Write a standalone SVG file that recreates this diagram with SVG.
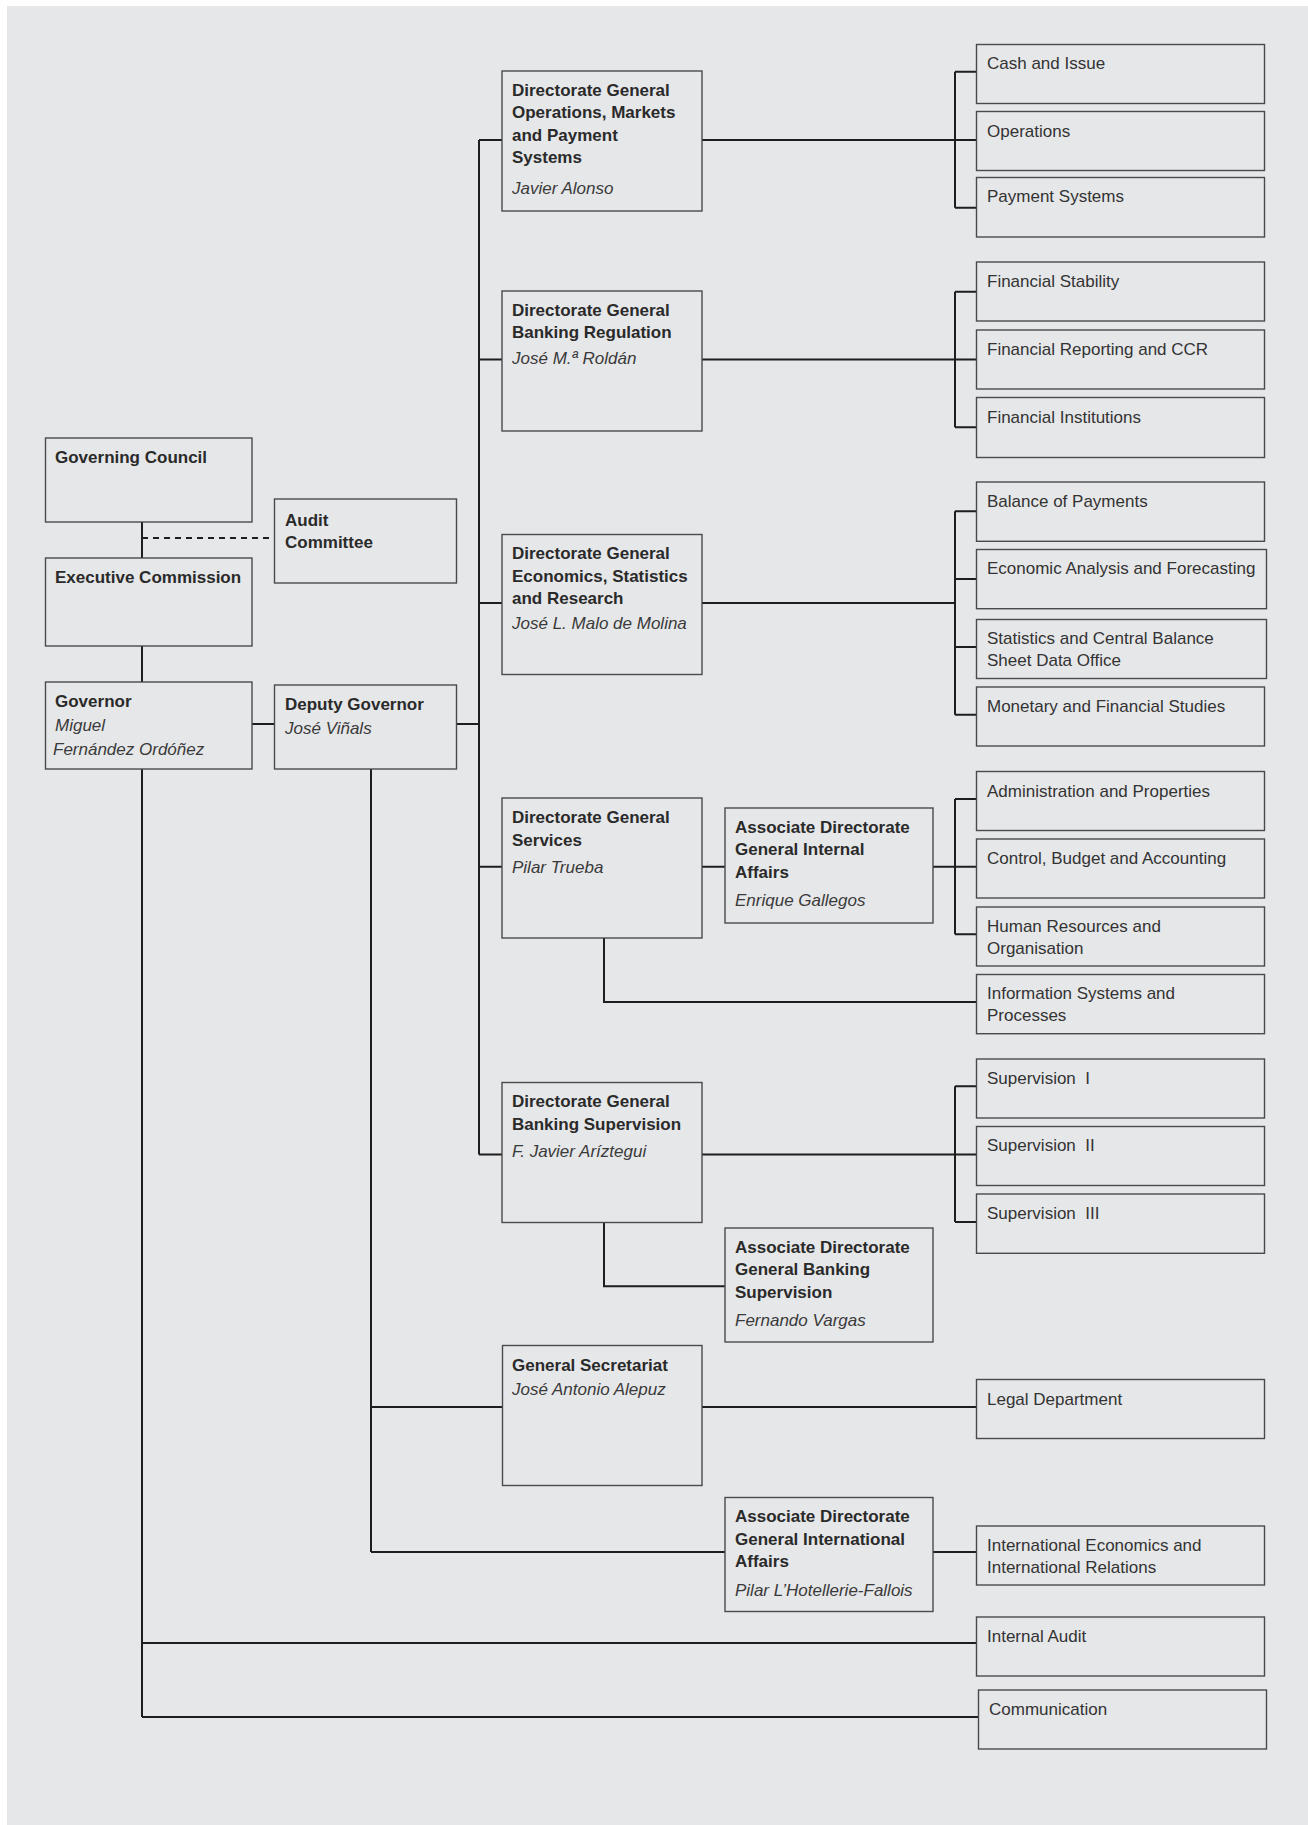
<svg xmlns="http://www.w3.org/2000/svg" width="1308" height="1825" viewBox="0 0 1308 1825">
<style>
.bx{fill:#e6e7e9;stroke:#4a4a4a;stroke-width:1.4}
.t{font-family:"Liberation Sans",Arial,sans-serif;font-size:17px;fill:#2b2b2b}
.b{font-weight:bold;fill:#2a2a2a}
.i{font-style:italic;fill:#3a3a3a}
.r{fill:#333}
.c{fill:none;stroke:#1e1e1e;stroke-width:2}
.d{fill:none;stroke:#1e1e1e;stroke-width:2;stroke-dasharray:6,5}
</style>
<rect x="0" y="0" width="1308" height="1825" fill="#ffffff"/>
<rect x="7" y="6" width="1301" height="1819" fill="#e6e7e9"/>

<g id="connectors">
<path class="c" d="M142,522V558 M142,646V682 M252,724H274.5 M456.5,724H479 M479,140V1154.5"/>
<path class="d" d="M142,538H274.5"/>
<path class="c" d="M479,140H502 M479,359.5H502 M479,603H502 M479,866.7H502 M479,1154.5H502"/>
<path class="c" d="M702,140H976.5 M955,71.7V207.7 M955,71.7H976.5 M955,207.7H976.5"/>
<path class="c" d="M702,359.5H976.5 M955,291.7V427.3 M955,291.7H976.5 M955,427.3H976.5"/>
<path class="c" d="M702,603H955 M955,511.3V714.7 M955,511.3H976.5 M955,579H976.5 M955,647H976.5 M955,714.7H976.5"/>
<path class="c" d="M702,866.7H725 M933,866.7H976.5 M955,799V934.3 M955,799H976.5 M955,934.3H976.5"/>
<path class="c" d="M604,938V1002H976.5"/>
<path class="c" d="M702,1154.5H976.5 M955,1086.3V1222 M955,1086.3H976.5 M955,1222H976.5"/>
<path class="c" d="M604,1222.5V1286.3H725"/>
<path class="c" d="M371,769V1552 M371,1407H502.5 M702,1407H976.5 M371,1552H725 M933,1552H976.5"/>
<path class="c" d="M142,769V1717 M142,1643H976.5 M142,1717H978.5"/>
</g>

<g id="governing-council"><rect class="bx" x="45.5" y="438" width="206.5" height="84"/>
<text class="t b" x="55" y="463">Governing Council</text></g>
<g id="audit-committee"><rect class="bx" x="274.5" y="499" width="182" height="84"/>
<text class="t b" x="285" y="526">Audit</text><text class="t b" x="285" y="548">Committee</text></g>
<g id="executive-commission"><rect class="bx" x="45.5" y="558" width="206.5" height="88"/>
<text class="t b" x="55" y="583">Executive Commission</text></g>
<g id="governor"><rect class="bx" x="45.5" y="682" width="206.5" height="87"/>
<text class="t b" x="55" y="707">Governor</text>
<text class="t i" x="55" y="731">Miguel</text>
<text class="t i" x="53" y="755">Fern&#225;ndez Ord&#243;&#241;ez</text></g>
<g id="deputy-governor"><rect class="bx" x="274.5" y="685" width="182" height="84"/>
<text class="t b" x="285" y="710">Deputy Governor</text>
<text class="t i" x="285" y="734">Jos&#233; Vi&#241;als</text></g>

<g id="dg-operations"><rect class="bx" x="502" y="71" width="200" height="140"/>
<text class="t b" x="512" y="96">Directorate General</text>
<text class="t b" x="512" y="118.3">Operations, Markets</text>
<text class="t b" x="512" y="140.5">and Payment</text>
<text class="t b" x="512" y="163">Systems</text>
<text class="t i" x="512" y="194">Javier Alonso</text></g>
<g id="dg-banking-regulation"><rect class="bx" x="502" y="291" width="200" height="140"/>
<text class="t b" x="512" y="316">Directorate General</text>
<text class="t b" x="512" y="338.3">Banking Regulation</text>
<text class="t i" x="512" y="364.3">Jos&#233; M.&#170; Rold&#225;n</text></g>
<g id="dg-economics"><rect class="bx" x="502" y="534.5" width="200" height="140"/>
<text class="t b" x="512" y="559.3">Directorate General</text>
<text class="t b" x="512" y="581.6">Economics, Statistics</text>
<text class="t b" x="512" y="603.5">and Research</text>
<text class="t i" x="512" y="629.3">Jos&#233; L. Malo de Molina</text></g>
<g id="dg-services"><rect class="bx" x="502" y="798" width="200" height="140"/>
<text class="t b" x="512" y="822.7">Directorate General</text>
<text class="t b" x="512" y="845.5">Services</text>
<text class="t i" x="512" y="872.5">Pilar Trueba</text></g>
<g id="adg-internal-affairs"><rect class="bx" x="725" y="808" width="208" height="115"/>
<text class="t b" x="735" y="832.7">Associate Directorate</text>
<text class="t b" x="735" y="855.2">General Internal</text>
<text class="t b" x="735" y="877.7">Affairs</text>
<text class="t i" x="735" y="906">Enrique Gallegos</text></g>
<g id="dg-banking-supervision"><rect class="bx" x="502" y="1082.5" width="200" height="140"/>
<text class="t b" x="512" y="1107.3">Directorate General</text>
<text class="t b" x="512" y="1130">Banking Supervision</text>
<text class="t i" x="512" y="1156.5">F. Javier Ar&#237;ztegui</text></g>
<g id="adg-banking-supervision"><rect class="bx" x="725" y="1228" width="208" height="114"/>
<text class="t b" x="735" y="1252.7">Associate Directorate</text>
<text class="t b" x="735" y="1275">General Banking</text>
<text class="t b" x="735" y="1297.7">Supervision</text>
<text class="t i" x="735" y="1326">Fernando Vargas</text></g>
<g id="general-secretariat"><rect class="bx" x="502.5" y="1345.5" width="199.5" height="140"/>
<text class="t b" x="512" y="1370.7">General Secretariat</text>
<text class="t i" x="512" y="1395">Jos&#233; Antonio Alepuz</text></g>
<g id="adg-international-affairs"><rect class="bx" x="725" y="1497.5" width="208" height="114"/>
<text class="t b" x="735" y="1522.3">Associate Directorate</text>
<text class="t b" x="735" y="1545">General International</text>
<text class="t b" x="735" y="1567.3">Affairs</text>
<text class="t i" x="735" y="1596">Pilar L&#8217;Hotellerie-Fallois</text></g>

<g id="cash-and-issue"><rect class="bx" x="976.5" y="44.5" width="288" height="59"/><text class="t r" x="987" y="68.5">Cash and Issue</text></g>
<g id="operations"><rect class="bx" x="976.5" y="111.5" width="288" height="59"/><text class="t r" x="987" y="136.5">Operations</text></g>
<g id="payment-systems"><rect class="bx" x="976.5" y="177.5" width="288" height="59.5"/><text class="t r" x="987" y="202.3">Payment Systems</text></g>
<g id="financial-stability"><rect class="bx" x="976.5" y="262" width="288" height="59"/><text class="t r" x="987" y="286.7">Financial Stability</text></g>
<g id="financial-reporting"><rect class="bx" x="976.5" y="330" width="288" height="59"/><text class="t r" x="987" y="355">Financial Reporting and CCR</text></g>
<g id="financial-institutions"><rect class="bx" x="976.5" y="397.5" width="288" height="60"/><text class="t r" x="987" y="422.7">Financial Institutions</text></g>
<g id="balance-of-payments"><rect class="bx" x="976.5" y="482" width="288" height="59.3"/><text class="t r" x="987" y="506.7">Balance of Payments</text></g>
<g id="economic-analysis"><rect class="bx" x="976.5" y="549.5" width="290" height="59.2"/><text class="t r" x="987" y="574">Economic Analysis and Forecasting</text></g>
<g id="statistics"><rect class="bx" x="976.5" y="619.5" width="290" height="59"/><text class="t r" x="987" y="643.5">Statistics and Central Balance</text><text class="t r" x="987" y="665.5">Sheet Data Office</text></g>
<g id="monetary-studies"><rect class="bx" x="976.5" y="687" width="288" height="59"/><text class="t r" x="987" y="711.5">Monetary and Financial Studies</text></g>
<g id="administration"><rect class="bx" x="976.5" y="771.5" width="288" height="59"/><text class="t r" x="987" y="796.7">Administration and Properties</text></g>
<g id="control-budget"><rect class="bx" x="976.5" y="839" width="288" height="59"/><text class="t r" x="987" y="864">Control, Budget and Accounting</text></g>
<g id="human-resources"><rect class="bx" x="976.5" y="907" width="288" height="59"/><text class="t r" x="987" y="931.7">Human Resources and</text><text class="t r" x="987" y="953.5">Organisation</text></g>
<g id="information-systems"><rect class="bx" x="976.5" y="974.5" width="288" height="59.2"/><text class="t r" x="987" y="999">Information Systems and</text><text class="t r" x="987" y="1021">Processes</text></g>
<g id="supervision-1"><rect class="bx" x="976.5" y="1059" width="288" height="59"/><text class="t r" x="987" y="1083.5" xml:space="preserve">Supervision  I</text></g>
<g id="supervision-2"><rect class="bx" x="976.5" y="1126.5" width="288" height="59"/><text class="t r" x="987" y="1151" xml:space="preserve">Supervision  II</text></g>
<g id="supervision-3"><rect class="bx" x="976.5" y="1194" width="288" height="59.3"/><text class="t r" x="987" y="1218.5" xml:space="preserve">Supervision  III</text></g>
<g id="legal-department"><rect class="bx" x="976.5" y="1379.5" width="288" height="59"/><text class="t r" x="987" y="1405">Legal Department</text></g>
<g id="international-economics"><rect class="bx" x="976.5" y="1526" width="288" height="59"/><text class="t r" x="987" y="1551">International Economics and</text><text class="t r" x="987" y="1573.3">International Relations</text></g>
<g id="internal-audit"><rect class="bx" x="976.5" y="1617" width="288" height="59"/><text class="t r" x="987" y="1642">Internal Audit</text></g>
<g id="communication"><rect class="bx" x="978.5" y="1690" width="288" height="59"/><text class="t r" x="989" y="1715">Communication</text></g>
</svg>
